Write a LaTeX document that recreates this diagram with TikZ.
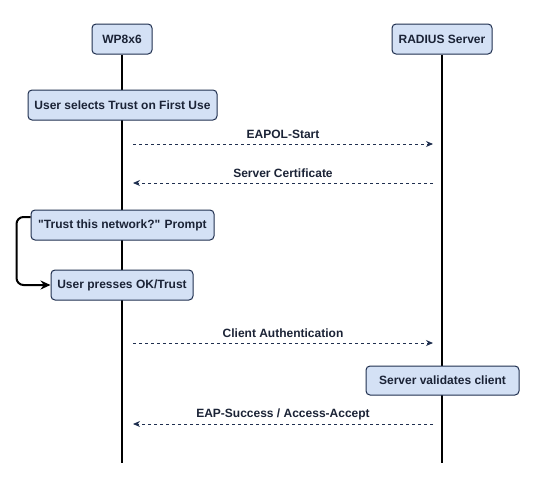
\documentclass[tikz,border=0pt]{standalone}
\usepackage{fontspec}
\setmainfont{Liberation Sans}
\usetikzlibrary{arrows.meta,backgrounds}
\definecolor{boxfill}{HTML}{D4E1F5}
\definecolor{boxline}{HTML}{1F2F4F}
\definecolor{txt}{HTML}{1B2336}
\definecolor{msg}{HTML}{1F2F4F}
\tikzset{
  box/.style={draw=boxline, fill=boxfill, rounded corners=4pt, line width=1pt,
    inner sep=0pt, minimum height=30pt, font=\bfseries\fontsize{12}{14}\selectfont, text=txt},
  life/.style={line width=2pt, black},
  msgarrow/.style={draw=msg, line width=0.9pt, dash pattern=on 3pt off 3pt,
    -{Stealth[length=7pt,width=6pt]}},
  msglabel/.style={font=\bfseries\fontsize{12}{14}\selectfont, text=txt, inner sep=0pt},
  loopy/.style={line width=2pt, black, rounded corners=7pt, -{Stealth[length=10pt,width=9pt]}}
}
\begin{document}
\begin{tikzpicture}[x=1pt,y=-1pt]
\useasboundingbox (0,0) rectangle (535,482);
% lifeline participants
\node[box, minimum width=60pt] (wp) at (122,39) {WP8x6};
\node[box, minimum width=100pt] (rad) at (442,39) {RADIUS Server};
\coordinate (wpend) at (122,463);
\coordinate (radend) at (442,463);
\begin{scope}[on background layer]
  \draw[life] (wp.south) -- (wpend);
  \draw[life] (rad.south) -- (radend);
\end{scope}
% activity boxes
\node[box, minimum width=189pt] (sel) at (122.5,105) {User selects Trust on First Use};
\node[box, minimum width=183pt] (prompt) at (122.5,225) {\textquotedbl Trust this network?\textquotedbl{} Prompt};
\node[box, minimum width=142pt] (press) at (122,285) {User presses OK/Trust};
\node[box, minimum width=153pt, minimum height=29pt] (valid) at (442.5,380.5) {Server validates client};
% message end points
\coordinate (m1a) at (133,144); \coordinate (m1b) at (433,144);
\coordinate (m2a) at (433,183); \coordinate (m2b) at (133,183);
\coordinate (m3a) at (133,343); \coordinate (m3b) at (433,343);
\coordinate (m4a) at (433,424); \coordinate (m4b) at (133,424);
\draw[msgarrow] (m1a) -- node[msglabel, yshift=9.5pt] (l1) {EAPOL-Start} (m1b);
\draw[msgarrow] (m2a) -- node[msglabel, yshift=9.5pt] (l2) {Server Certificate} (m2b);
\draw[msgarrow] (m3a) -- node[msglabel, yshift=9.5pt] (l3) {Client Authentication} (m3b);
\draw[msgarrow] (m4a) -- node[msglabel, yshift=9.5pt] (l4) {EAP-Success / Access-Accept} (m4b);
% self loop
\draw[loopy] ([yshift=8pt]prompt.west) -- ++(-14,0) |- (press.west);
\end{tikzpicture}
\end{document}
